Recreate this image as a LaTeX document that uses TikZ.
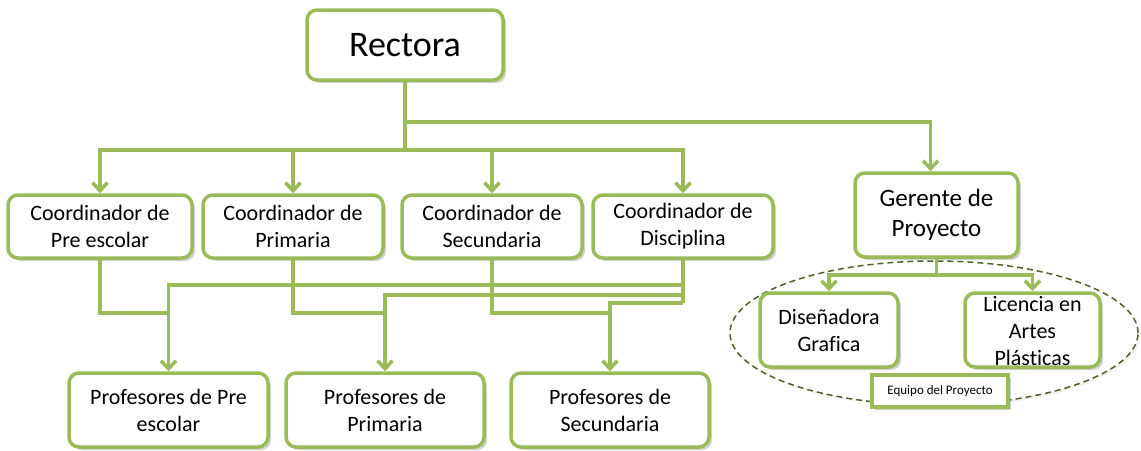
\documentclass[tikz,border=0pt]{standalone}
\usepackage{fontspec}
\setmainfont[Ligatures={NoCommon}]{Carlito}
\usetikzlibrary{arrows.meta,shadows,shapes.geometric}
\definecolor{grn}{HTML}{9BBB59}
\definecolor{dgrn}{HTML}{4F6228}
\tikzset{
  box/.style={draw=grn, line width=3.5pt, fill=white, rounded corners=10pt, align=center, inner sep=0pt,
    drop shadow={shadow xshift=3pt, shadow yshift=-3pt, opacity=0.3, fill=black!60}},
  link/.style={draw=grn, line width=3.5pt},
  arr/.style={link, -{Straight Barb[length=8pt,width=15pt]}},
  fcoord/.style={font=\fontsize{22}{27}\selectfont},
  fprof/.style={font=\fontsize{22}{27}\selectfont},
}
\begin{document}
\begin{tikzpicture}[x=1pt,y=-1pt]
\useasboundingbox (0,0) rectangle (1141,450);
% team ellipse
\node[ellipse, draw=dgrn, fill=white, line width=1.5pt, dash pattern=on 6pt off 4pt, minimum width=408pt, minimum height=144pt, inner sep=0pt,
  drop shadow={shadow xshift=2pt, shadow yshift=-2pt, opacity=0.15, fill=black!40}] (team) at (934,333) {};
% boxes
\node[box, minimum width=196pt, minimum height=70pt, font=\fontsize{36}{40}\selectfont] (rect) at (405,45) {Rectora};
\node[box, fcoord, minimum width=184pt, minimum height=63pt] (c1) at (100,226.5) {Coordinador de\\Pre escolar};
\node[box, fcoord, minimum width=180pt, minimum height=63pt] (c2) at (293,226.5) {Coordinador de\\Primaria};
\node[box, fcoord, minimum width=180pt, minimum height=63pt] (c3) at (492,226.5) {Coordinador de\\Secundaria};
\node[box, fcoord, minimum width=180pt, minimum height=63pt] (c4) at (683,226.5) {Coordinador de\\Disciplina};
\node[box, minimum width=163pt, minimum height=84pt, font=\fontsize{25}{30}\selectfont] (ger) at (936.5,215) {Gerente de\\Proyecto};
\node[box, fprof, minimum width=199pt, minimum height=74pt] (p1) at (168.5,410) {Profesores de Pre\\escolar};
\node[box, fprof, minimum width=198pt, minimum height=74pt] (p2) at (385,410) {Profesores de\\Primaria};
\node[box, fprof, minimum width=198pt, minimum height=74pt] (p3) at (610,410) {Profesores de\\Secundaria};
\node[box, fprof, minimum width=138pt, minimum height=74pt] (dis) at (829,330) {Diseñadora\\Grafica};
\node[box, minimum width=135pt, minimum height=74pt] (lic) at (1032.5,330) {};
\node[fprof, align=center, inner sep=0pt] (lict) at (1032.5,331) {Licencia en\\Artes\\Plásticas};
\node[box, rounded corners=0pt, minimum width=136pt, minimum height=32pt, font=\fontsize{13}{15}\selectfont] (eq) at (940,391) {Equipo del Proyecto};
% connectors from Rectora
\coordinate (j1) at (405,150);
\draw[link] (rect.south) -- (j1);
\draw[arr] (j1) -| (c1.north);
\draw[arr] (j1) -| (c2.north);
\draw[arr] (j1) -| (c3.north);
\draw[arr] (j1) -| (c4.north);
\draw[arr] (rect.south |- 0,122) -| ([xshift=-6pt]ger.north);
% coordinators to professors
\draw[link] (c1.south) |- (p1.north |- 0,313);
\draw[link] (c2.south) |- (p2.north |- 0,313);
\draw[link] (c3.south) |- (p3.north |- 0,313);
\draw[link] (c4.south) -- (c4.south |- 0,303);
\draw[arr] (c4.south |- 0,285) -| (p1.north);
\draw[arr] (c4.south |- 0,295) -| (p2.north);
\draw[arr] (c4.south |- 0,303) -| (p3.north);
% gerente to team
\draw[link] (ger.south) -- (ger.south |- 0,275);
\draw[arr] (ger.south |- 0,275) -| (dis.north);
\draw[arr] (ger.south |- 0,275) -| (lic.north);
\end{tikzpicture}
\end{document}
